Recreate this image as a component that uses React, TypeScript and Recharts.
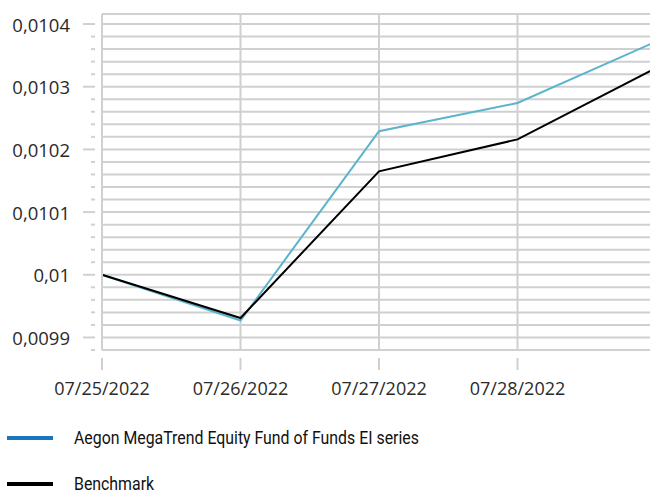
import React from "react";
import { LineChart, Line, XAxis, YAxis, CartesianGrid } from "recharts";

const dates = ["07/25/2022", "07/26/2022", "07/27/2022", "07/28/2022", "07/29/2022"];
const fundValues = [0.01, 0.009927, 0.010229, 0.010274, 0.010372];
const benchmarkValues = [0.01, 0.009931, 0.010165, 0.010216, 0.01033];

const majorTicks = [0.0099, 0.01, 0.0101, 0.0102, 0.0103, 0.0104];
const minorTicks = [
  0.00988, 0.00992, 0.00994, 0.00996, 0.00998,
  0.01002, 0.01004, 0.01006, 0.01008,
  0.01012, 0.01014, 0.01016, 0.01018,
  0.01022, 0.01024, 0.01026, 0.01028,
  0.01032, 0.01034, 0.01036, 0.01038,
];
const yTop = 0.010416;
const yBottom = 0.00988;

const fundName = "Aegon MegaTrend Equity Fund of Funds EI series";
const benchName = "Benchmark";

const data = dates.map((d, i) => ({
  date: d,
  fund: fundValues[i],
  bench: benchmarkValues[i],
}));

const allTicks = [...majorTicks, ...minorTicks, yTop].sort((a, b) => a - b);
const isMajor = (v: number) => majorTicks.some((m) => Math.abs(m - v) < 1e-9);

const labelFont = "'Open Sans', sans-serif";

function YTick(props: any) {
  const { x, y, payload } = props;
  const v = payload.value;
  if (Math.abs(v - yTop) < 1e-9) return null;
  if (isMajor(v)) {
    return (
      <g>
        <line x1={x - 11} x2={x + 1} y1={y} y2={y} stroke="#d0d0d0" strokeWidth={2} />
        <text x={x - 24} y={y} textAnchor="end" dominantBaseline="central"
          fontFamily={labelFont} fontSize={18.5} fill="#2a2a2a">
          {String(v).replace(".", ",")}
        </text>
      </g>
    );
  }
  return <line x1={x - 3} x2={x + 1} y1={y} y2={y} stroke="#d0d0d0" strokeWidth={2} />;
}

function XTick(props: any) {
  const { x, y, payload, index } = props;
  return (
    <g>
      <line x1={x} x2={x} y1={y} y2={y + 12} stroke="#d0d0d0" strokeWidth={2} />
      {index < dates.length - 1 && (
        <text x={x} y={y + 30} textAnchor="middle" dominantBaseline="central"
          fontFamily={labelFont} fontSize={18} fill="#2a2a2a">
          {payload.value}
        </text>
      )}
    </g>
  );
}

const legendText: React.CSSProperties = {
  display: "inline-block",
  transform: "scaleX(0.835)",
  transformOrigin: "left center",
  whiteSpace: "nowrap",
};

export default function App() {
  return (
    <div style={{ position: "fixed", left: 0, top: 0, width: 650, height: 491, overflow: "hidden", background: "#fff" }}>
      <LineChart width={662} height={400} data={data} margin={{ top: 14, right: 6, left: 0, bottom: 0 }}>
        <CartesianGrid stroke="#d0d0d0" strokeWidth={2} />
        <XAxis dataKey="date" interval={0} height={50} tick={<XTick />} tickLine={false}
          axisLine={{ stroke: "#d0d0d0", strokeWidth: 2 }} padding={{ left: 0, right: 0 }} />
        <YAxis type="number" domain={[yBottom, yTop]} ticks={allTicks} interval={0} width={102}
          tick={<YTick />} tickLine={false} axisLine={{ stroke: "#d0d0d0", strokeWidth: 2 }}
          allowDataOverflow />
        <Line type="linear" dataKey="fund" stroke="#5ab4cc" strokeWidth={2} dot={false} isAnimationActive={false} />
        <Line type="linear" dataKey="bench" stroke="#000" strokeWidth={2} dot={false} isAnimationActive={false} />
      </LineChart>
      <div style={{ position: "absolute", left: 7, top: 427, fontFamily: "Roboto, sans-serif", fontSize: 19, color: "#111" }}>
        <div style={{ display: "flex", alignItems: "center", height: 22, lineHeight: "22px" }}>
          <span style={{ display: "inline-block", width: 46, height: 4, background: "#1b75bb", marginRight: 21 }} />
          <span style={legendText}>{fundName}</span>
        </div>
        <div style={{ display: "flex", alignItems: "center", height: 14, lineHeight: "14px", marginTop: 28 }}>
          <span style={{ display: "inline-block", width: 46, height: 4, background: "#000", marginRight: 21 }} />
          <span style={legendText}>{benchName}</span>
        </div>
      </div>
    </div>
  );
}
